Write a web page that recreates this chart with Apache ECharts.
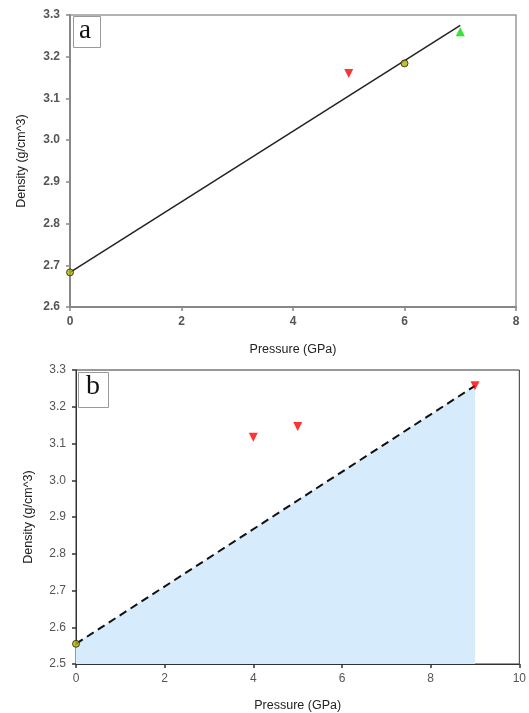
<!DOCTYPE html>
<html>
<head>
<meta charset="utf-8">
<script src="https://cdn.jsdelivr.net/npm/echarts@6/dist/echarts.min.js"></script>
<style>
  html, body {margin: 0; padding: 0; background: #fff;}
  #main {width: 529px; height: 713px;}
</style>
</head>
<body>
<div id="main"></div>
<script>
// panel a
var aCircles = [[0, 2.683], [6, 3.184]];
var aRedDown = [[5, 3.16]];
var aGreenUp = [[7, 3.26]];
var aFitLine = [[0, 2.683], [7, 3.275]];
var aXTicks = [0, 2, 4, 6, 8];
var aYTicks = [2.6, 2.7, 2.8, 2.9, 3.0, 3.1, 3.2, 3.3];

// panel b
var bCircles = [[0, 2.555]];
var bRedDown = [[4, 3.117], [5, 3.146], [9, 3.257]];
var bFitLine = [[0, 2.555], [9, 3.257]];
var bXTicks = [0, 2, 4, 6, 8, 10];
var bYTicks = [2.5, 2.6, 2.7, 2.8, 2.9, 3.0, 3.1, 3.2, 3.3];

var font = 'Liberation Sans, Arial, sans-serif';

function xAxisFor(idx, ticks, col, w, bold, gap) {
    return {
        type: 'value', gridIndex: idx,
        min: ticks[0], max: ticks[ticks.length - 1], interval: ticks[1] - ticks[0],
        name: 'Pressure (GPa)', nameLocation: 'middle', nameGap: gap,
        nameTextStyle: {color: '#222', fontSize: 12.5, fontFamily: font},
        axisLine: {lineStyle: {color: col, width: w}},
        axisTick: {show: true, length: 4, lineStyle: {color: col, width: 1.5}},
        axisLabel: {color: '#555', fontSize: 12, fontFamily: font, fontWeight: bold ? 'bold' : 'normal', margin: 9},
        splitLine: {show: false}
    };
}
function yAxisFor(idx, ticks, col, w, bold, gap) {
    return {
        type: 'value', gridIndex: idx,
        min: ticks[0], max: ticks[ticks.length - 1], interval: 0.1,
        name: 'Density (g/cm^3)', nameLocation: 'middle', nameGap: gap,
        nameTextStyle: {color: '#222', fontSize: 12.5, fontFamily: font},
        axisLine: {lineStyle: {color: col, width: w}},
        axisTick: {show: true, length: 4, lineStyle: {color: col, width: 1.5}},
        axisLabel: {color: '#555', fontSize: 12, fontFamily: font, fontWeight: bold ? 'bold' : 'normal', margin: 10,
            formatter: function (v) { return v.toFixed(1); }},
        splitLine: {show: false}
    };
}

var option = {
    animation: false,
    backgroundColor: '#fff',
    grid: [
        {left: 70, top: 15, width: 446, height: 292, show: true, borderColor: '#999', borderWidth: 1.5},
        {left: 76, top: 370, width: 446, height: 294, show: true, borderColor: '#333', borderWidth: 1}
    ],
    xAxis: [xAxisFor(0, aXTicks, '#888', 2, true, 36), xAxisFor(1, bXTicks, '#333', 1, false, 35)],
    yAxis: [yAxisFor(0, aYTicks, '#888', 2, true, 42), yAxisFor(1, bYTicks, '#333', 1, false, 41)],
    graphic: [
        {type: 'rect', left: 73, top: 16, shape: {width: 27, height: 31},
            style: {fill: '#fff', stroke: '#999', lineWidth: 1}},
        {type: 'text', left: 79, top: 17, style: {text: 'a', font: '27px "Liberation Serif", serif', fill: '#111'}},
        {type: 'rect', left: 78, top: 372, shape: {width: 30, height: 35},
            style: {fill: '#fff', stroke: '#999', lineWidth: 1}},
        {type: 'text', left: 86, top: 373, style: {text: 'b', font: '28px "Liberation Serif", serif', fill: '#111'}}
    ],
    series: [
        {type: 'line', xAxisIndex: 0, yAxisIndex: 0, data: aFitLine, symbol: 'none',
            lineStyle: {color: '#222', width: 1.5}, z: 2},
        {type: 'scatter', xAxisIndex: 0, yAxisIndex: 0, data: aCircles, symbol: 'circle', symbolSize: 7,
            itemStyle: {color: '#b5b000', borderColor: '#222', borderWidth: 1}, z: 3},
        {type: 'scatter', xAxisIndex: 0, yAxisIndex: 0, data: aRedDown, symbol: 'triangle', symbolRotate: 180, symbolSize: 9,
            itemStyle: {color: '#ff0000'}, z: 3},
        {type: 'scatter', xAxisIndex: 0, yAxisIndex: 0, data: aGreenUp, symbol: 'triangle', symbolSize: 9,
            itemStyle: {color: '#00e000'}, z: 3},

        {type: 'line', xAxisIndex: 1, yAxisIndex: 1, data: bFitLine, symbol: 'none',
            lineStyle: {color: '#111', width: 2, type: [8, 5]},
            areaStyle: {color: '#d6ecfc', opacity: 1, origin: 'start'}, z: 2},
        {type: 'scatter', xAxisIndex: 1, yAxisIndex: 1, data: bCircles, symbol: 'circle', symbolSize: 7,
            itemStyle: {color: '#b5b000', borderColor: '#222', borderWidth: 1}, z: 3},
        {type: 'scatter', xAxisIndex: 1, yAxisIndex: 1, data: bRedDown, symbol: 'triangle', symbolRotate: 180, symbolSize: 9,
            itemStyle: {color: '#ff0000'}, z: 3}
    ]
};

var myChart = echarts.init(document.getElementById('main'));
myChart.setOption(option);
</script>
</body>
</html>
